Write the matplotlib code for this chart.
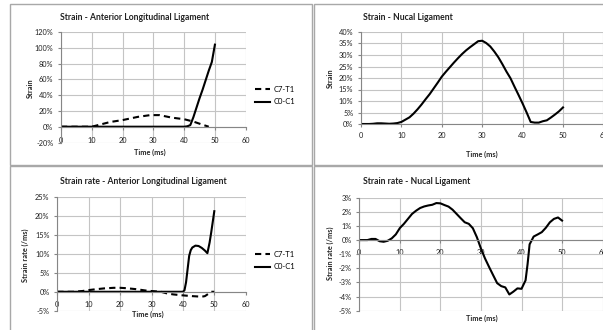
import matplotlib
matplotlib.use("Agg")
import matplotlib.pyplot as plt
from matplotlib.ticker import FuncFormatter, MultipleLocator
from matplotlib.lines import Line2D

plt.rcParams['font.family'] = ['Lato', 'DejaVu Sans']

# ---------------- data ----------------
# Strain - Anterior Longitudinal Ligament (%)
all_c7_t = [0, 5, 10, 12, 16, 20, 25, 29, 32, 36, 40, 43, 46, 48]
all_c7_strain = [0, 0, 0, 2, 6, 8.4, 12.5, 14.7, 14.7, 11.5, 9.5, 6.5, 2.5, 0]
all_c0_t = [0, 10, 20, 30, 40, 41, 42, 43, 44, 45, 46, 47, 48, 49, 50]
all_c0_strain = [0, 0, 0, 0, 0, 0.5, 2, 12, 24, 36, 47, 59, 71, 82, 104]

# Strain - Nucal Ligament (%)
nl_t = list(range(0, 51))
nl_strain = [0, 0, 0, 0.1, 0.3, 0.3, 0.2, 0.1, 0.2, 0.4,
             0.9, 1.9, 2.9, 4.5, 6.4, 8.5, 10.8, 13.0, 15.5, 18.0,
             20.6, 22.7, 24.7, 26.7, 28.6, 30.4, 32.0, 33.4, 34.7, 36.0,
             36.2, 35.2, 33.7, 31.5, 29.0, 26.0, 22.8, 19.9, 16.2, 12.6,
             8.9, 5.0, 0.9, 0.6, 0.6, 1.2, 1.6, 2.8, 4.1, 5.5, 7.2]

# Strain rate - Anterior Longitudinal Ligament (%/ms)
allr_c7_t = [0, 5, 8, 10, 12, 15, 18, 20, 22, 25, 28, 30, 33, 35, 37, 40, 43, 46, 47, 48, 49, 50]
allr_c7_rate = [0, 0, 0.2, 0.45, 0.65, 0.9, 1.05, 1.05, 0.95, 0.7, 0.35, 0.2, 0, -0.45,
                -0.7, -0.95, -1.15, -1.3, -1.15, -0.6, 0, 0]
allr_c0_t = [0, 10, 20, 30, 40, 40.5, 41, 41.5, 42, 42.5, 43, 44, 45, 46, 47, 47.8, 48.5, 49, 50]
allr_c0_rate = [0, 0, 0, 0, 0, 0.4, 2.5, 6.0, 9.5, 11.0, 11.7, 12.2, 12.1, 11.6, 10.9, 10.2,
                13.0, 15.6, 21.3]

# Strain rate - Nucal Ligament (%/ms)
nlr_t = [0, 1, 2, 3, 4, 5, 6, 7, 8, 9, 10, 11, 12, 13, 14, 15, 16, 17, 18, 19, 20,
         21, 22, 23, 24, 25, 26, 27, 28, 29, 30, 31, 32, 33, 34, 35, 36, 37, 38, 39,
         40, 41, 41.5, 42, 43, 44, 45, 46, 47, 48, 49, 50]
nlr_rate = [0, 0, 0, 0.08, 0.08, -0.08, -0.12, -0.05, 0.12, 0.4, 0.85, 1.15, 1.5, 1.85,
            2.08, 2.27, 2.38, 2.45, 2.5, 2.62, 2.6, 2.48, 2.37, 2.15, 1.85, 1.55, 1.26,
            1.15, 0.84, 0.2, -0.6, -1.3, -1.9, -2.48, -3.05, -3.26, -3.35, -3.85, -3.65,
            -3.42, -3.45, -2.85, -1.7, -0.3, 0.25, 0.4, 0.56, 0.87, 1.26, 1.5, 1.6, 1.38]

titles = ["Strain - Anterior Longitudinal Ligament", "Strain - Nucal Ligament",
          "Strain rate - Anterior Longitudinal Ligament", "Strain rate - Nucal Ligament"]
ylabels = ["Strain", "Strain", "Strain rate (/ms)", "Strain rate (/ms)"]
xlabel = "Time (ms)"
legend_labels = ["C7-T1", "C0-C1"]

# ---------------- layout ----------------
W, H = 603, 330
fig = plt.figure(figsize=(W / 100, H / 100), dpi=100)
fig.patch.set_facecolor("white")


def box(x0, y0, x1, y1):
    return [x0 / W, 1 - y1 / H, (x1 - x0) / W, (y1 - y0) / H]


def fx(x):
    return x / W


def fy(y):
    return 1 - y / H


# panel borders
border_col = "#a8a8a8"
for (x0, y0, x1, y1) in [(10, 4, 311.5, 164.5), (313.5, 4, 700, 164.5),
                         (10, 166.5, 311.5, 400), (313.5, 166.5, 700, 400)]:
    fig.add_artist(plt.Rectangle((fx(x0), fy(y1)), fx(x1) - fx(x0), fy(y0) - fy(y1),
                                 transform=fig.transFigure, fill=False,
                                 edgecolor=border_col, lw=1.0))

GRID = "#c4c4c4"
AXC = "#868686"
TICK_FS = 5.3
pct = FuncFormatter(lambda v, p: "%d%%" % int(round(v)))


def style(ax, ylim, ystep, xpad, zero_axis):
    ax.set_xlim(0, 60)
    ax.set_ylim(*ylim)
    ax.xaxis.set_major_locator(MultipleLocator(10))
    ax.yaxis.set_major_locator(MultipleLocator(ystep))
    ax.yaxis.set_major_formatter(pct)
    ax.grid(True, color=GRID, lw=0.8)
    ax.set_axisbelow(True)
    for s in ["top", "right"]:
        ax.spines[s].set_visible(False)
    ax.spines["left"].set_color(AXC)
    ax.spines["left"].set_linewidth(0.8)
    ax.spines["bottom"].set_color(AXC)
    ax.spines["bottom"].set_linewidth(0.8)
    if zero_axis:
        ax.spines["bottom"].set_position(("data", 0))
    ax.tick_params(axis="y", length=2, width=0.8, color=AXC, pad=3.5,
                   labelsize=TICK_FS, labelcolor="#222222")
    ax.tick_params(axis="x", length=2, width=0.8, color=AXC, pad=xpad,
                   labelsize=TICK_FS, labelcolor="#222222")
    ax.patch.set_alpha(0)


LW = 1.5
DASH = (3, 2)

# Top-left
ax1 = fig.add_axes(box(61, 32, 245.7, 142.5))
style(ax1, (-20, 120), 20, 5.6, True)
ax1.plot(all_c7_t, all_c7_strain, color="black", lw=LW, ls=(0, DASH), label=legend_labels[0])
ax1.plot(all_c0_t, all_c0_strain, color="black", lw=LW, label=legend_labels[1])
ax1.legend(loc="center left", bbox_to_anchor=(fx(255), fy(95.5)), bbox_transform=fig.transFigure,
           frameon=False, fontsize=5.5, handlelength=2.0, handletextpad=0.4,
           labelspacing=0.75, borderpad=0, borderaxespad=0)

# Top-right
ax2 = fig.add_axes(box(361, 32, 603.4, 124))
style(ax2, (0, 40), 5, 3.8, False)
ax2.plot(nl_t, nl_strain, color="black", lw=LW)

# Bottom-left
ax3 = fig.add_axes(box(57.3, 197.2, 245.7, 310.7))
style(ax3, (-5, 25), 5, 4.6, True)
ax3.plot(allr_c7_t, allr_c7_rate, color="black", lw=LW, ls=(0, DASH), label=legend_labels[0])
ax3.plot(allr_c0_t, allr_c0_rate, color="black", lw=LW, label=legend_labels[1])
ax3.legend(loc="center left", bbox_to_anchor=(fx(255), fy(260.5)), bbox_transform=fig.transFigure,
           frameon=False, fontsize=5.5, handlelength=2.0, handletextpad=0.4,
           labelspacing=0.75, borderpad=0, borderaxespad=0)

# Bottom-right
ax4 = fig.add_axes(box(359.3, 197.7, 602.6, 310.7))
style(ax4, (-5, 3), 1, 4.2, True)
ax4.plot(nlr_t, nlr_rate, color="black", lw=LW)

# titles
TFS = 6.2
fig.text(fx(134.5), fy(18), titles[0], ha="center", va="center", fontsize=TFS, fontweight="bold", color="#222222")
fig.text(fx(363), fy(18), titles[1], ha="left", va="center", fontsize=TFS, fontweight="bold", color="#222222")
fig.text(fx(143), fy(182), titles[2], ha="center", va="center", fontsize=TFS, fontweight="bold", color="#222222")
fig.text(fx(363), fy(182), titles[3], ha="left", va="center", fontsize=TFS, fontweight="bold", color="#222222")

# axis titles
AFS = 5.3
for (x, y, t) in [(30, 88, ylabels[0]), (330, 78, ylabels[1]), (25, 255, ylabels[2]), (330, 253, ylabels[3])]:
    fig.text(fx(x), fy(y), t, rotation=90, ha="center", va="center", fontsize=AFS,
             fontweight="bold", color="#222222")
for (x, y) in [(150, 152), (482, 154), (148, 314), (482, 318)]:
    fig.text(fx(x), fy(y), xlabel, ha="center", va="center", fontsize=AFS,
             fontweight="bold", color="#222222")

fig.savefig("out.png", dpi=100)
